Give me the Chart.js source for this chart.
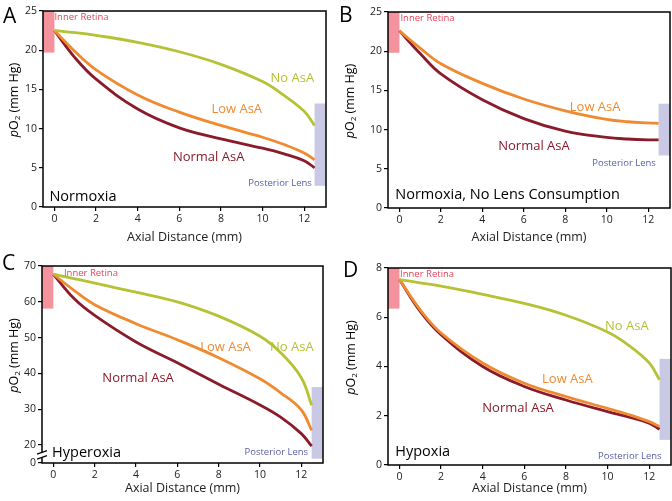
<!DOCTYPE html>
<html>
<head>
<meta charset="utf-8">
<script src="https://cdn.jsdelivr.net/npm/chart.js@4.4.1/dist/chart.umd.min.js"></script>
<style>
  html, body { margin: 0; padding: 0; background: #fff; }
  #wrap { position: relative; width: 672px; height: 501px; }
  canvas { position: absolute; }
</style>
</head>
<body>
<div id="wrap">
  <canvas id="chartA" width="336" height="250" style="left:0;top:0"></canvas>
  <canvas id="chartB" width="336" height="250" style="left:336px;top:0"></canvas>
  <canvas id="chartC" width="336" height="251" style="left:0;top:250px"></canvas>
  <canvas id="chartD" width="336" height="251" style="left:336px;top:250px"></canvas>
</div>
<script>
// axial distance (mm) from inner retina to posterior lens
const distance = [0, 1, 2, 4, 6, 8, 10, 11, 12, 12.5];
const xTicks = [0, 2, 4, 6, 8, 10, 12];

// A: normoxia
const normoxiaNo = [22.5, 22.25, 21.9, 21.0, 19.8, 18.2, 16.0, 14.3, 12.2, 10.4];
const normoxiaLow = [22.5, 19.8, 17.5, 14.3, 12.1, 10.4, 8.9, 8.0, 6.9, 6.0];
const normoxiaNormal = [22.5, 19.0, 16.3, 12.5, 10.1, 8.7, 7.5, 6.8, 5.9, 5.0];

// B: normoxia, no lens consumption
const noLensLow = [22.6, 20.4, 18.4, 15.9, 13.9, 12.4, 11.3, 11.0, 10.85, 10.8];
const noLensNormal = [22.6, 19.7, 17.1, 13.8, 11.4, 9.8, 9.0, 8.8, 8.7, 8.7];

// C: hyperoxia
const hyperoxiaNo = [67.7, 66.5, 65.2, 62.7, 60.0, 56.0, 50.4, 45.8, 38.8, 31.1];
const hyperoxiaLow = [67.7, 63.2, 59.2, 53.9, 49.4, 44.4, 38.5, 34.6, 29.8, 24.1];
const hyperoxiaNormal = [67.7, 60.9, 56.2, 48.8, 43.0, 37.0, 31.2, 27.8, 23.2, 19.7];

// D: hypoxia
const hypoxiaNo = [7.53, 7.4, 7.26, 6.93, 6.56, 6.08, 5.4, 4.87, 4.15, 3.46];
const hypoxiaLow = [7.53, 6.3, 5.36, 4.14, 3.32, 2.78, 2.3, 2.05, 1.76, 1.56];
const hypoxiaNormal = [7.53, 6.24, 5.29, 4.0, 3.19, 2.64, 2.17, 1.95, 1.7, 1.45];

const yTicksNormoxia = [0, 5, 10, 15, 20, 25];
const yTicksHyperoxia = [15, 20, 30, 40, 50, 60, 70]; // 15 sits on the axis break, shown as 0
const yTicksHypoxia = [0, 2, 4, 6, 8];

const FONT = "'Open Sans', 'Noto Sans', sans-serif";
const NO_COLOR = '#b5c236';
const LOW_COLOR = '#f08a30';
const NORMAL_COLOR = '#8a1b2b';
const RETINA_FILL = '#f4939d';
const RETINA_TEXT = '#e5435c';
const LENS_FILL = '#c9c9e5';
const LENS_TEXT = '#5a5ea8';

function line(label, data, color) {
  return {
    label,
    data: data.map((v, i) => ({ x: distance[i], y: v })),
    borderColor: color,
    borderWidth: 2.8,
    pointRadius: 0,
    tension: 0.4,
    fill: false,
  };
}

// bands, border box, notes, panel letter and y title
const decor = {
  id: 'decor',
  beforeDatasetsDraw(chart) {
    const p = chart.options.plugins.decor;
    const { ctx, scales: { x, y } } = chart;
    ctx.save();
    ctx.fillStyle = RETINA_FILL;
    ctx.fillRect(x.left, y.top, x.getPixelForValue(0) - x.left, y.getPixelForValue(p.retina) - y.top);
    ctx.fillStyle = LENS_FILL;
    const lx = x.getPixelForValue(12.5);
    ctx.fillRect(lx, y.getPixelForValue(p.lens[1]), x.right - lx, y.getPixelForValue(p.lens[0]) - y.getPixelForValue(p.lens[1]));
    ctx.restore();
  },
  afterDraw(chart) {
    const p = chart.options.plugins.decor;
    const { ctx, chartArea: a, scales: { x, y } } = chart;
    ctx.save();
    ctx.strokeStyle = '#000';
    ctx.lineWidth = 1.5;
    ctx.strokeRect(a.left, a.top, a.right - a.left, a.bottom - a.top);

    if (p.broken) {
      const by = y.getPixelForValue(17.2);
      ctx.fillStyle = '#fff';
      ctx.fillRect(a.left - 2, by - 2.5, 4, 5);
      ctx.lineWidth = 1.2;
      ctx.beginPath();
      ctx.moveTo(a.left - 5, by - 1); ctx.lineTo(a.left + 5, by - 4.5);
      ctx.moveTo(a.left - 5, by + 4); ctx.lineTo(a.left + 5, by + 0.5);
      ctx.stroke();
    }

    ctx.textBaseline = 'middle';
    p.notes.forEach(n => {
      ctx.font = n.size + 'px ' + FONT;
      ctx.fillStyle = n.color;
      ctx.textAlign = n.align || 'center';
      ctx.fillText(n.text, x.getPixelForValue(n.x), y.getPixelForValue(n.y));
    });

    ctx.font = '21px ' + FONT;
    ctx.fillStyle = '#000';
    ctx.textAlign = 'left';
    ctx.textBaseline = 'alphabetic';
    ctx.fillText(p.letter, p.letterPos[0], p.letterPos[1]);

    // pO2 (mm Hg), italic p and subscript 2
    const parts = [
      { t: 'p', f: 'italic 12.5px ' + FONT, dy: 0 },
      { t: 'O', f: '12.5px ' + FONT, dy: 0 },
      { t: '2', f: '8px ' + FONT, dy: 3.5 },
      { t: ' (mm Hg)', f: '12.5px ' + FONT, dy: 0 },
    ];
    let total = 0;
    parts.forEach(s => { ctx.font = s.f; s.w = ctx.measureText(s.t).width; total += s.w; });
    ctx.translate(p.titleX, (a.top + a.bottom) / 2 - 9);
    ctx.rotate(-Math.PI / 2);
    ctx.textBaseline = 'middle';
    let cx = -total / 2;
    parts.forEach(s => { ctx.font = s.f; ctx.fillText(s.t, cx, s.dy); cx += s.w; });
    ctx.restore();
  }
};

function makePanel(id, cfg) {
  const canvas = document.getElementById(id);
  const area = cfg.area;
  return new Chart(canvas, {
    type: 'line',
    data: { datasets: cfg.series },
    options: {
      responsive: false,
      animation: false,
      layout: { padding: { left: 0, top: area.top, right: canvas.width - area.right, bottom: 0 } },
      plugins: {
        legend: { display: false },
        tooltip: { enabled: false },
        decor: cfg.decor,
      },
      scales: {
        x: {
          type: 'linear',
          min: -0.55,
          max: 13.05,
          afterBuildTicks: s => { s.ticks = xTicks.map(v => ({ value: v })); },
          afterFit: s => { s.height = canvas.height - area.bottom; },
          grid: { drawOnChartArea: false, drawTicks: true, tickLength: 4, color: '#000', lineWidth: 1.2 },
          border: { display: false },
          ticks: { color: '#222', font: { family: FONT, size: 10.5 }, padding: 2, maxRotation: 0 },
          title: { display: true, text: 'Axial Distance (mm)', color: '#222', font: { family: FONT, size: 12.5 }, padding: { top: 0, bottom: 5 } },
        },
        y: {
          min: cfg.yMin,
          max: cfg.yMax,
          afterBuildTicks: s => { s.ticks = cfg.yTicks.map(v => ({ value: v })); },
          afterFit: s => { s.width = area.left; },
          grid: { drawOnChartArea: false, drawTicks: true, tickLength: 4, color: '#000', lineWidth: 1.2 },
          border: { display: false },
          ticks: {
            color: '#222',
            font: { family: FONT, size: 10.5 },
            padding: 2,
            callback: v => (v === cfg.yMin ? '0' : v),
          },
        },
      },
    },
    plugins: [decor],
  });
}

makePanel('chartA', {
  area: { left: 43, top: 11, right: 326, bottom: 207 },
  yMin: 0, yMax: 25, yTicks: yTicksNormoxia,
  series: [line('No AsA', normoxiaNo, NO_COLOR), line('Low AsA', normoxiaLow, LOW_COLOR), line('Normal AsA', normoxiaNormal, NORMAL_COLOR)],
  decor: {
    letter: 'A', letterPos: [3, 23], titleX: 14, retina: 19.7, lens: [2.7, 13.2],
    notes: [
      { text: 'No AsA', x: 11.43, y: 16.45, color: NO_COLOR, size: 13 },
      { text: 'Low AsA', x: 8.76, y: 12.5, color: LOW_COLOR, size: 13 },
      { text: 'Normal AsA', x: 7.41, y: 6.38, color: NORMAL_COLOR, size: 13 },
      { text: 'Inner Retina', x: 0.0, y: 24.2, color: RETINA_TEXT, size: 9.5, align: 'left' },
      { text: 'Posterior Lens', x: 12.37, y: 3.06, color: LENS_TEXT, size: 9.5, align: 'right' },
      { text: 'Normoxia', x: -0.24, y: 1.28, color: '#000', size: 14.5, align: 'left' },
    ],
  },
});

makePanel('chartB', {
  area: { left: 52, top: 12, right: 334, bottom: 208 },
  yMin: 0, yMax: 25, yTicks: yTicksNormoxia,
  series: [line('Low AsA', noLensLow, LOW_COLOR), line('Normal AsA', noLensNormal, NORMAL_COLOR)],
  decor: {
    letter: 'B', letterPos: [3, 22], titleX: 14, retina: 19.8, lens: [6.7, 13.3],
    notes: [
      { text: 'Low AsA', x: 9.44, y: 12.87, color: LOW_COLOR, size: 13 },
      { text: 'Normal AsA', x: 6.49, y: 7.93, color: NORMAL_COLOR, size: 13 },
      { text: 'Inner Retina', x: 0.05, y: 24.2, color: RETINA_TEXT, size: 9.5, align: 'left' },
      { text: 'Posterior Lens', x: 12.37, y: 5.76, color: LENS_TEXT, size: 9.5, align: 'right' },
      { text: 'Normoxia, No Lens Consumption', x: -0.2, y: 1.69, color: '#000', size: 14.5, align: 'left' },
    ],
  },
});

makePanel('chartC', {
  area: { left: 42, top: 16, right: 323, bottom: 213 },
  yMin: 15, yMax: 70, yTicks: yTicksHyperoxia,
  series: [line('No AsA', hyperoxiaNo, NO_COLOR), line('Low AsA', hyperoxiaLow, LOW_COLOR), line('Normal AsA', hyperoxiaNormal, NORMAL_COLOR)],
  decor: {
    letter: 'C', letterPos: [2, 20], titleX: 14, retina: 58.1, lens: [16.2, 36.2], broken: true,
    notes: [
      { text: 'No AsA', x: 11.54, y: 47.3, color: NO_COLOR, size: 13 },
      { text: 'Low AsA', x: 8.33, y: 47.3, color: LOW_COLOR, size: 13 },
      { text: 'Normal AsA', x: 4.1, y: 38.6, color: NORMAL_COLOR, size: 13 },
      { text: 'Inner Retina', x: 0.51, y: 68.0, color: RETINA_TEXT, size: 9.5, align: 'left' },
      { text: 'Posterior Lens', x: 12.33, y: 18.0, color: LENS_TEXT, size: 9.5, align: 'right' },
      { text: 'Hyperoxia', x: -0.06, y: 17.7, color: '#000', size: 14.5, align: 'left' },
    ],
  },
});

makePanel('chartD', {
  area: { left: 52, top: 18, right: 335, bottom: 215 },
  yMin: 0, yMax: 8, yTicks: yTicksHypoxia,
  series: [line('No AsA', hypoxiaNo, NO_COLOR), line('Low AsA', hypoxiaLow, LOW_COLOR), line('Normal AsA', hypoxiaNormal, NORMAL_COLOR)],
  decor: {
    letter: 'D', letterPos: [7, 27], titleX: 15, retina: 6.35, lens: [1.02, 4.31],
    notes: [
      { text: 'No AsA', x: 10.93, y: 5.65, color: NO_COLOR, size: 13 },
      { text: 'Low AsA', x: 8.07, y: 3.5, color: LOW_COLOR, size: 13 },
      { text: 'Normal AsA', x: 5.7, y: 2.32, color: NORMAL_COLOR, size: 13 },
      { text: 'Inner Retina', x: 0.03, y: 7.76, color: RETINA_TEXT, size: 9.5, align: 'left' },
      { text: 'Posterior Lens', x: 12.6, y: 0.37, color: LENS_TEXT, size: 9.5, align: 'right' },
      { text: 'Hypoxia', x: -0.2, y: 0.53, color: '#000', size: 14.5, align: 'left' },
    ],
  },
});
</script>
</body>
</html>
